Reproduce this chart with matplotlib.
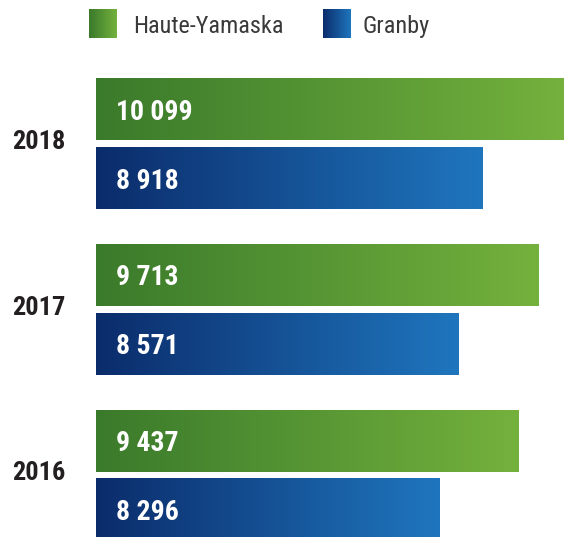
import numpy as np
import matplotlib
matplotlib.use("Agg")
import matplotlib.pyplot as plt
from matplotlib.colors import LinearSegmentedColormap

years = ["2018", "2017", "2016"]
haute_yamaska = [10099, 9713, 9437]
granby = [8918, 8571, 8296]
series_names = ["Haute-Yamaska", "Granby"]

green_cmap = LinearSegmentedColormap.from_list("green", ["#3a7a2b", "#74b13d"])
blue_cmap = LinearSegmentedColormap.from_list("blue", ["#0b2c6b", "#1f76be"])

plt.rcParams['font.family'] = ['Roboto Condensed', 'Fira Sans Condensed', 'DejaVu Sans']

W, H = 564, 537
fig = plt.figure(figsize=(W / 100, H / 100), dpi=100)

# main axes: from pixel x=96 to the right edge, y from 60px to the bottom
ax = fig.add_axes([96 / W, 0, 1 - 96 / W, (H - 60) / H])
XLIM = (3396, 10081)
YLIM = (-0.374, 2.504)
ax.set_xlim(*XLIM)
ax.set_ylim(*YLIM)
ax.axis("off")

grad = np.linspace(0, 1, 256).reshape(1, -1)


def gradient_bar(y, value, height, cmap):
    left = XLIM[0]
    bar = ax.barh(y, value - left, left=left, height=height, color="none",
                  edgecolor="none")[0]
    im = ax.imshow(grad, cmap=cmap, aspect="auto", interpolation="bicubic",
                   extent=[left, value, y - height / 2, y + height / 2],
                   zorder=1)
    im.set_clip_path(bar)
    return bar


pos = np.arange(len(years))[::-1]
bh = 0.374
off = 0.208
for p, hy, gr in zip(pos, haute_yamaska, granby):
    gradient_bar(p + off, hy, bh, green_cmap)
    gradient_bar(p - off, gr, bh, blue_cmap)
    x0 = XLIM[0] + 286
    ax.text(x0, p + off, f"{hy:,}".replace(",", " "), color="white",
            fontsize=20, fontweight="bold", va="center_baseline", ha="left", zorder=3)
    ax.text(x0, p - off, f"{gr:,}".replace(",", " "), color="white",
            fontsize=20, fontweight="bold", va="center_baseline", ha="left", zorder=3)

ax.set_xlim(*XLIM)
ax.set_ylim(*YLIM)

# year labels to the left of the bars
for p, yr in zip(pos, years):
    fig.text(12 / W, 1 - (143.5 - 4 + (2 - p) * 165.75) / H, yr,
             fontsize=19, fontweight="bold", color="#231f20",
             va="center_baseline", ha="left")

# legend with gradient squares
legend_items = [(89, green_cmap, 133), (323, blue_cmap, 363)]
for (sx, cmap, tx), name in zip(legend_items, series_names):
    lax = fig.add_axes([sx / W, 1 - 38 / H, 28 / W, 29 / H])
    lax.imshow(grad, cmap=cmap, aspect="auto", interpolation="bicubic")
    lax.axis("off")
    fig.text(tx / W, 1 - 24 / H, name, fontsize=17.5, fontweight="normal",
             color="#3a3a3a", va="center_baseline", ha="left")

fig.savefig("out.png", dpi=100)
